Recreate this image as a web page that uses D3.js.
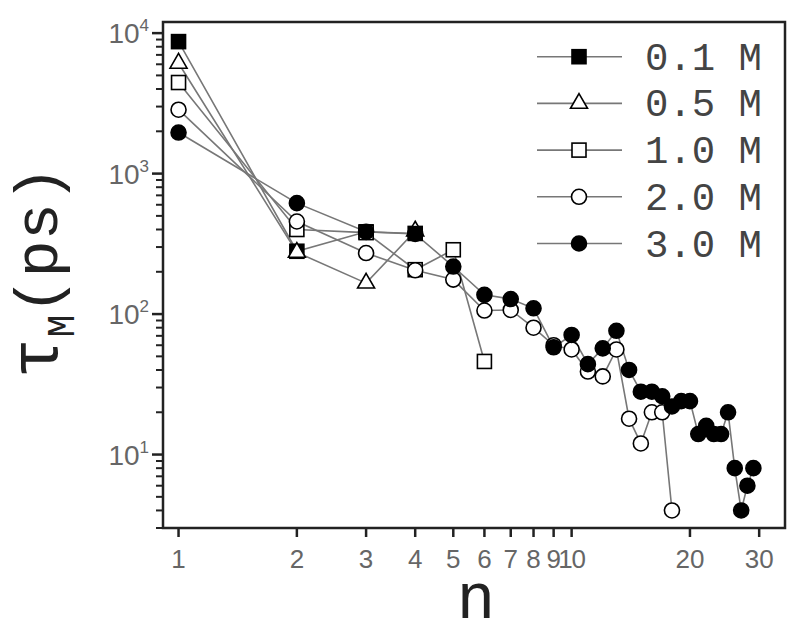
<!DOCTYPE html>
<html><head><meta charset="utf-8">
<script src="https://cdn.jsdelivr.net/npm/d3@7"></script>
<style>body{margin:0;background:#fff}svg{display:block}</style>
</head><body>
<svg id="c" width="800" height="642"></svg>
<script>
// ---- data ----
const seriesNames = ["0.1 M", "0.5 M", "1.0 M", "2.0 M", "3.0 M"];
const n01 = [1, 2, 3, 4];
const v01 = [8700, 280, 385, 375];
const n05 = [1, 2, 3, 4];
const v05 = [6100, 275, 166, 390];
const n10 = [1, 2, 3, 4, 5, 6];
const v10 = [4450, 400, 380, 207, 287, 46];
const n20 = [1, 2, 3, 4, 5, 6, 7, 8, 9, 10, 11, 12, 13, 14, 15, 16, 17, 18];
const v20 = [2850, 456, 272, 205, 176, 106, 107, 80, 60, 56, 39, 36, 56, 18, 12, 20, 20, 4];
const n30 = [1, 2, 3, 4, 5, 6, 7, 8, 9, 10, 11, 12, 13, 14, 15, 16, 17, 18, 19, 20, 21, 22, 23, 24, 25, 26, 27, 28, 29];
const v30 = [1960, 616, 385, 372, 218, 137, 128, 110, 58, 71, 44, 57, 76, 40, 28, 28, 26, 22, 24, 24, 14, 16, 14, 14, 20, 8, 4, 6, 8];
const xTicks = [1, 2, 3, 4, 5, 6, 7, 8, 9, 10, 20, 30];
const yMajor = [10, 100, 1000, 10000];

const markers = ["squareFilled", "triangle", "square", "circle", "circleFilled"];
const series = [[n01, v01], [n05, v05], [n10, v10], [n20, v20], [n30, v30]].map((d, i) => ({
  name: seriesNames[i], marker: markers[i],
  pts: d[0].map((n, j) => ({n: n, v: d[1][j]}))
}));

const svg = d3.select("#c");
const L = 163, R = 785, T = 22, B = 528;
const x = d3.scaleLog().domain([0.913, 34.9]).range([L, R]);
const y = d3.scaleLog().domain([3, 12000]).range([B, T]);

// y ticks
const yMinor = [];
[1, 10, 100, 1000].forEach(d => { for (let k = 2; k <= 9; k++) { const v = d * k; if (v >= 3 && v <= 12000) yMinor.push(v); } });
const gy = svg.append("g").attr("transform", `translate(${L},0)`);
gy.selectAll("line.mn").data(yMinor).join("line").attr("class", "mn")
  .attr("x1", -7).attr("x2", 0).attr("y1", d => y(d)).attr("y2", d => y(d))
  .attr("stroke", "#222").attr("stroke-width", 2);
gy.selectAll("line.mj").data(yMajor).join("line").attr("class", "mj")
  .attr("x1", -11).attr("x2", 0).attr("y1", d => y(d)).attr("y2", d => y(d))
  .attr("stroke", "#222").attr("stroke-width", 2.5);
const yl = gy.selectAll("text").data(yMajor).join("text")
  .attr("x", -14).attr("y", d => y(d) + 10)
  .attr("text-anchor", "end").attr("fill", "#666")
  .style("font-family", "Liberation Sans, Arial, sans-serif").style("font-size", "28px");
yl.append("tspan").text("10");
yl.append("tspan").attr("dy", -12).style("font-size", "17px").text(d => Math.round(Math.log10(d)));

// x ticks
const gx = svg.append("g").attr("transform", `translate(0,${B})`);
gx.selectAll("line").data(xTicks).join("line")
  .attr("x1", d => x(d)).attr("x2", d => x(d)).attr("y1", 0).attr("y2", 9)
  .attr("stroke", "#222").attr("stroke-width", 2.5);
gx.selectAll("text").data(xTicks).join("text")
  .attr("x", d => x(d)).attr("y", 40).attr("text-anchor", "middle").attr("fill", "#666")
  .style("font-family", "Liberation Sans, Arial, sans-serif").style("font-size", "26px")
  .attr("letter-spacing", d => d === 10 ? -1 : 0)
  .text(d => d);

// frame
svg.append("rect").attr("x", L).attr("y", T).attr("width", R - L).attr("height", B - T)
  .attr("fill", "none").attr("stroke", "#222").attr("stroke-width", 2.5);

// lines
const line = d3.line().x(d => x(d.n)).y(d => y(d.v));
svg.append("g").selectAll("path").data(series).join("path")
  .attr("d", d => line(d.pts)).attr("fill", "none").attr("stroke", "#777").attr("stroke-width", 1.6);

function drawMarker(g, type, cx, cy) {
  const sw = 1.6;
  if (type === "squareFilled" || type === "square") {
    g.append("rect").attr("x", cx - 7).attr("y", cy - 7).attr("width", 14).attr("height", 14)
      .attr("fill", type === "squareFilled" ? "#000" : "#fff").attr("stroke", "#000").attr("stroke-width", sw);
  } else if (type === "triangle") {
    const s = 17, h = s * Math.sqrt(3) / 2;
    g.append("path").attr("d", `M${cx},${cy - h * 2 / 3}L${cx + s / 2},${cy + h / 3}L${cx - s / 2},${cy + h / 3}Z`)
      .attr("fill", "#fff").attr("stroke", "#000").attr("stroke-width", sw);
  } else {
    g.append("circle").attr("cx", cx).attr("cy", cy).attr("r", 7.5)
      .attr("fill", type === "circleFilled" ? "#000" : "#fff").attr("stroke", "#000").attr("stroke-width", sw);
  }
}
series.forEach(s => {
  const g = svg.append("g");
  s.pts.forEach(p => drawMarker(g, s.marker, x(p.n), y(p.v)));
});

// legend
const lg = svg.append("g");
series.forEach((s, i) => {
  const ry = 56.7 + i * 46.7;
  lg.append("line").attr("x1", 537).attr("x2", 622).attr("y1", ry).attr("y2", ry)
    .attr("stroke", "#777").attr("stroke-width", 1.6);
  drawMarker(lg, s.marker, 579, ry);
  lg.append("text").attr("x", 645).attr("y", ry + 13).attr("fill", "#444")
    .style("font-family", "Liberation Mono, Courier New, monospace").style("font-size", "39px")
    .text(s.name);
});

// axis titles
svg.append("text").attr("x", 476).attr("y", 618).attr("text-anchor", "middle").attr("fill", "#222")
  .style("font-family", "Liberation Mono, Courier New, monospace").style("font-size", "64px").text("n");
const yt = svg.append("text").attr("transform", "translate(57,272) rotate(-90)")
  .attr("text-anchor", "middle").attr("fill", "#222")
  .style("font-family", "Liberation Mono, Courier New, monospace");
yt.append("tspan").style("font-size", "68px").text("τ");
yt.append("tspan").style("font-size", "38px").attr("dy", 17).text("M");
yt.append("tspan").style("font-size", "62px").attr("dy", -17).text("(ps)");
</script>
</body></html>
